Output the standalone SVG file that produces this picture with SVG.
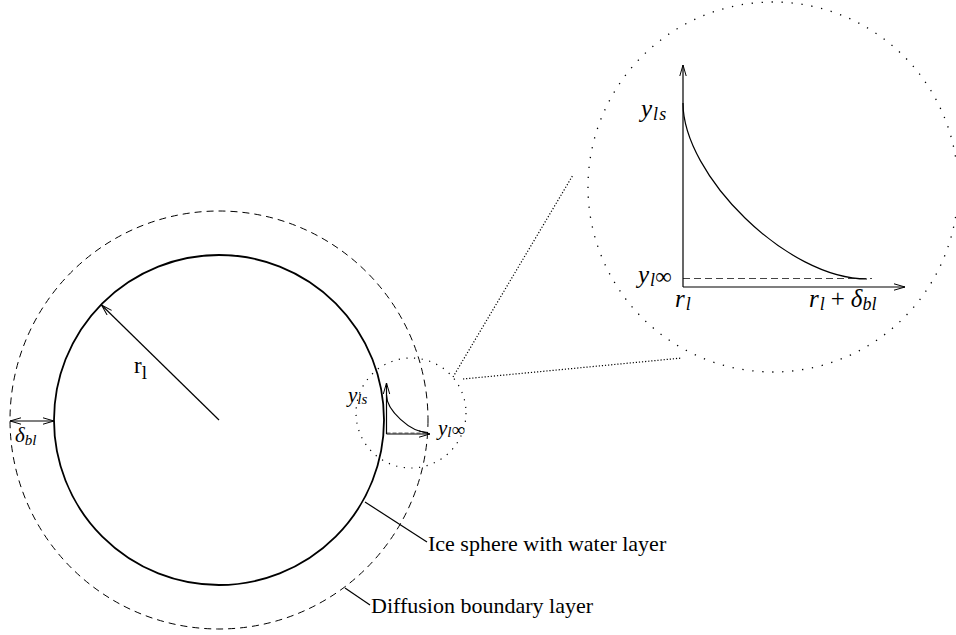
<svg xmlns="http://www.w3.org/2000/svg" width="956" height="635" viewBox="0 0 956 635">
<style>
.m{font-family:"Liberation Serif",serif;font-style:italic;fill:#000;}
.u{font-family:"Liberation Serif",serif;fill:#000;}
.solid{fill:none;stroke:#000;stroke-width:1.8;}
.dashed{fill:none;stroke:#000;stroke-width:1;stroke-dasharray:7 5;}
.dotbig{fill:none;stroke:#000;stroke-width:1.3;stroke-dasharray:1.3 8.7;}
.dotsmall{fill:none;stroke:#000;stroke-width:1.2;stroke-dasharray:1.2 6.5;}
.dotline{fill:none;stroke:#000;stroke-width:1.2;stroke-dasharray:1.2 1.9;}
.line{fill:none;stroke:#000;stroke-width:1.2;}
.arr{fill:none;stroke:#000;stroke-width:1.2;marker-end:url(#ah);}
</style>
<defs>
<marker id="ah" viewBox="0 0 12 8" refX="11.5" refY="4" markerWidth="12" markerHeight="8" markerUnits="userSpaceOnUse" orient="auto-start-reverse">
<path d="M0.5,0.8 L11.5,4 L0.5,7.2" fill="none" stroke="#000" stroke-width="1"/>
</marker>
</defs>
<rect width="956" height="635" fill="#fff"/>

<g id="boundary-layer">
<circle class="dashed" cx="219" cy="420" r="209"/>
</g>
<g id="ice-sphere">
<circle class="solid" cx="219" cy="420" r="165"/>
</g>
<g id="zoom-region">
<circle class="dotsmall" cx="411" cy="413" r="55"/>
</g>
<g id="zoom-view">
<circle class="dotbig" cx="773" cy="187" r="185"/>
</g>

<g id="connectors">
<line class="arr" x1="219" y1="420" x2="101.5" y2="305"/>
<line class="line" x1="10" y1="421" x2="54" y2="421" marker-start="url(#ah)" marker-end="url(#ah)"/>
<line class="line" x1="365" y1="502" x2="427" y2="542"/>
<line class="line" x1="345" y1="588" x2="370" y2="605"/>
<line class="dotline" x1="453" y1="377" x2="573" y2="175"/>
<line class="dotline" x1="463" y1="379" x2="682" y2="358"/>
</g>

<g id="small-plot">
<line x1="386.5" y1="433" x2="428" y2="433" stroke="#666" stroke-width="1" stroke-dasharray="4 2"/>
<line class="arr" x1="386.5" y1="434" x2="386.5" y2="383"/>
<line class="arr" x1="386.5" y1="434" x2="430" y2="434"/>
<path class="line" d="M386.5,395 C386.5,410 410,432.5 428,432.5"/>
<text class="m" x="348" y="402" font-size="21">y<tspan font-size="15" dy="2">ls</tspan></text>
<text class="m" x="438" y="435" font-size="21">y<tspan font-size="15" dy="2">l</tspan><tspan font-size="19" font-style="normal" dy="-1">∞</tspan></text>
</g>

<g id="large-plot">
<line x1="683" y1="278.5" x2="872" y2="278.5" stroke="#444" stroke-width="1.2" stroke-dasharray="7 4"/>
<line class="arr" x1="683" y1="287" x2="683" y2="65"/>
<line class="arr" x1="683" y1="287" x2="905" y2="287"/>
<path class="line" d="M683,103 C683,175 787,279 867,279"/>
<text class="m" x="641" y="117" font-size="25">y<tspan font-size="18" dy="3" dx="1">l</tspan><tspan font-size="18" dx="1">s</tspan></text>
<text class="m" x="638" y="283" font-size="25">y<tspan font-size="18" dy="3" dx="1">l</tspan><tspan font-size="23" font-style="normal" dy="-2">∞</tspan></text>
<text class="m" x="675" y="307" font-size="25">r<tspan font-size="18" dy="3" dx="1">l</tspan></text>
<text class="m" x="809" y="307" font-size="25">r<tspan font-size="18" dy="3" dx="1">l</tspan><tspan font-style="normal" dy="-3" dx="6">+</tspan><tspan dx="6">δ</tspan><tspan font-size="18" dy="3">bl</tspan></text>
</g>

<g id="labels">
<text class="u" x="134" y="373" font-size="23">r<tspan font-size="19" dy="6">l</tspan></text>
<text class="m" x="15" y="442" font-size="21">δ<tspan font-size="15" dy="3">bl</tspan></text>
<text class="u" x="428" y="551" font-size="22">Ice sphere with water layer</text>
<text class="u" x="371" y="613" font-size="22">Diffusion boundary layer</text>
</g>
</svg>
